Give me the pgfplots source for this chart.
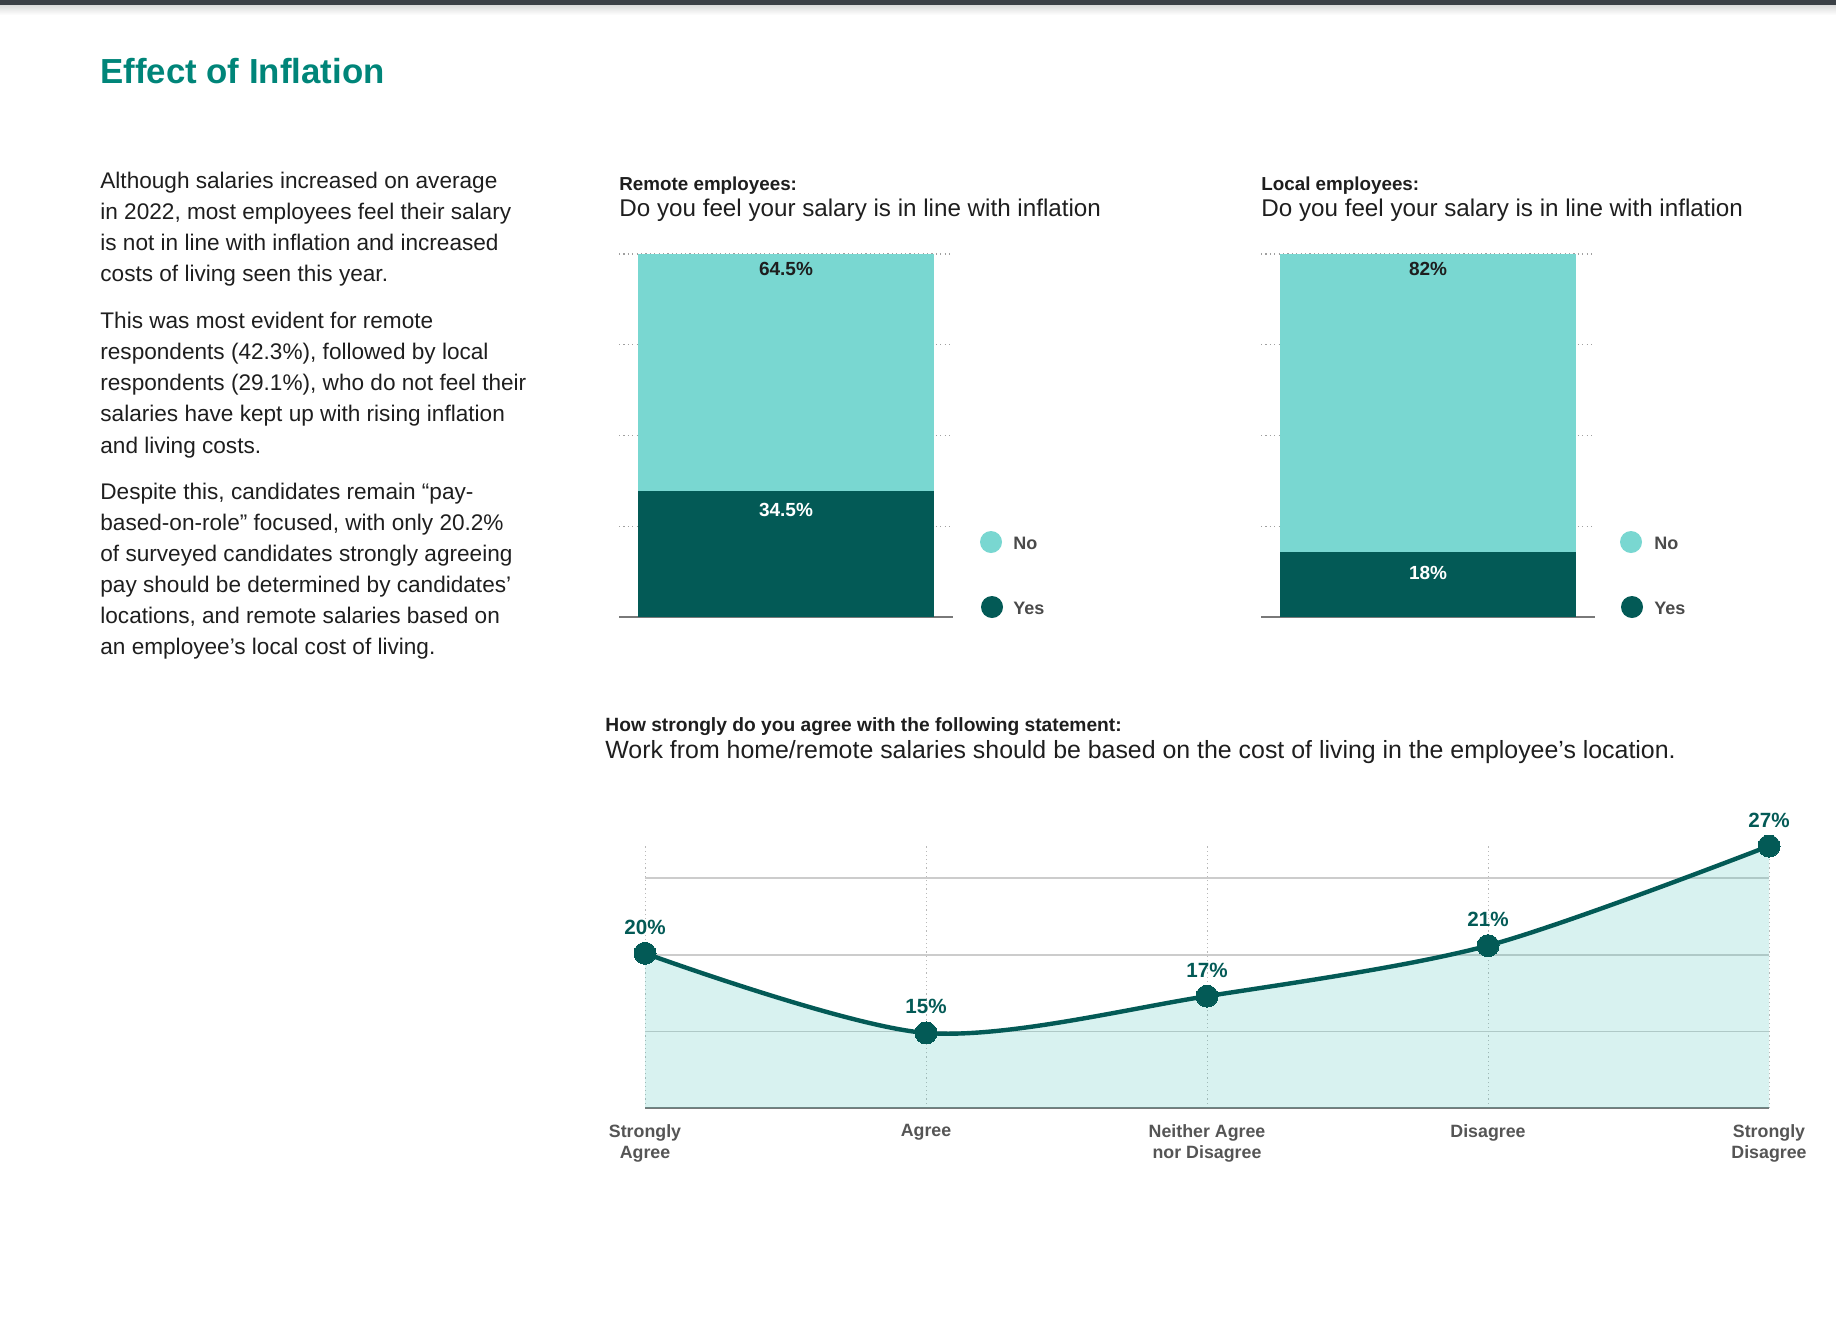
\documentclass[border=0pt]{standalone}
\usepackage{fontspec}
\setmainfont{Liberation Sans}
\usepackage{pgfplots}
\pgfplotsset{compat=1.18}
\usepackage{pgfplotstable}

\definecolor{tealL}{HTML}{79D7D1}
\definecolor{tealD}{HTML}{035A56}
\definecolor{titlec}{HTML}{008579}
\definecolor{fillc}{HTML}{3CBEB4}
\definecolor{txt}{HTML}{1E1E1E}
\definecolor{legc}{HTML}{4A4A4A}
\definecolor{tickc}{HTML}{555555}
\definecolor{topbar}{HTML}{3B4046}

\pgfplotstableread{
x y
0 34.5
}\remoteyes
\pgfplotstableread{
x y
0 64.5
}\remoteno
\pgfplotstableread{
x y
0 18
}\localyes
\pgfplotstableread{
x y
0 82
}\localno
\pgfplotstableread{
x y lab
0 20.1 20
1 14.9 15
2 17.3 17
3 20.6 21
4 27.1 27
}\agree

\newcommand{\bodyf}{\fontsize{11.3}{15.5}\selectfont}
\newcommand{\subf}{\fontsize{9.4}{11}\selectfont\bfseries}
\newcommand{\qf}{\fontsize{12.1}{14}\selectfont}
\newcommand{\barlab}{\fontsize{9.5}{11}\selectfont\bfseries}

\pgfplotsset{
  barax/.style={
    anchor=south west, scale only axis, width=167pt, height=181.5pt,
    ybar stacked, bar width=0.889,
    xmin=-0.5, xmax=0.5, ymin=0,
    xtick=\empty, yticklabels={},
    ymajorgrids,
    major y grid style={gray!75, line width=0.6pt, dash pattern=on 0.6pt off 1.6pt},
    axis x line*=bottom, axis y line*=left,
    y axis line style={draw=none},
    x axis line style={-, draw=gray!95!black, line width=1.3pt},
    major tick length=0pt,
    clip=false,
  }
}

\begin{document}
\begin{tikzpicture}[x=0.5pt,y=-0.5pt]
\path[use as bounding box] (0,0) rectangle (1836,1324);
\shade[top color=black!14, bottom color=white] (0,5) rectangle (1836,15);
\fill[topbar] (0,0) rectangle (1836,5);

% title
\node[anchor=base west, inner sep=0pt, font=\fontsize{17.4}{20}\selectfont\bfseries, text=titlec] at (100,83) {Effect of Inflation};

% body text
\begin{scope}[every node/.style={anchor=base west, inner sep=0pt, font=\bodyf, text=txt}]
\node at (100,188) {Although salaries increased on average};
\node at (100,219.5) {in 2022, most employees feel their salary};
\node at (100,250.5) {is not in line with inflation and increased};
\node at (100,281.5) {costs of living seen this year.};
\node at (100,328) {This was most evident for remote};
\node at (100,359) {respondents (42.3\%), followed by local};
\node at (100,390) {respondents (29.1\%), who do not feel their};
\node at (100,421.5) {salaries have kept up with rising inflation};
\node at (100,453) {and living costs.};
\node at (100,499) {Despite this, candidates remain “pay-};
\node at (100,530) {based-on-role” focused, with only 20.2\%};
\node at (100,561) {of surveyed candidates strongly agreeing};
\node at (100,592) {pay should be determined by candidates’};
\node at (100,623.5) {locations, and remote salaries based on};
\node at (100,654.5) {an employee’s local cost of living.};
\end{scope}

% chart titles
\begin{scope}[every node/.style={anchor=base west, inner sep=0pt, text=txt}]
\node[font=\subf] at (619,190) {Remote employees:};
\node[font=\qf] at (619,216.5) {Do you feel your salary is in line with inflation};
\node[font=\subf] at (1261,190) {Local employees:};
\node[font=\qf] at (1261,216.5) {Do you feel your salary is in line with inflation};
\node[font=\fontsize{9.6}{11}\selectfont\bfseries] at (605,731.5) {How strongly do you agree with the following statement:};
\node[font=\fontsize{12.45}{14}\selectfont] at (605,758) {Work from home/remote salaries should be based on the cost of living in the employee’s location.};
\end{scope}

% remote bar
\begin{axis}[barax, at={(309.5pt,-308.5pt)}, ymax=99, ytick={0,24.75,49.5,74.25,99}]
\addplot[fill=tealD, draw=none] table[x=x,y=y]{\remoteyes};
\addplot[fill=tealL, draw=none] table[x=x,y=y]{\remoteno};
\coordinate (ryes) at (axis cs:0,34.5);
\coordinate (rno) at (axis cs:0,99);
\end{axis}
\node[anchor=north, inner sep=0pt, font=\barlab, text=white, yshift=-6.25pt] at (ryes) {34.5\%};
\node[anchor=north, inner sep=0pt, font=\barlab, text=txt, yshift=-3.75pt] at (rno) {64.5\%};

% local bar
\begin{axis}[barax, at={(630.5pt,-308.5pt)}, ymax=100, ytick={0,25,50,75,100}]
\addplot[fill=tealD, draw=none] table[x=x,y=y]{\localyes};
\addplot[fill=tealL, draw=none] table[x=x,y=y]{\localno};
\coordinate (lyes) at (axis cs:0,18);
\coordinate (lno) at (axis cs:0,100);
\end{axis}
\node[anchor=north, inner sep=0pt, font=\barlab, text=white, yshift=-7.25pt] at (lyes) {18\%};
\node[anchor=north, inner sep=0pt, font=\barlab, text=txt, yshift=-3.75pt] at (lno) {82\%};

% legends
\begin{scope}[every node/.style={anchor=base west, inner sep=0pt, font=\fontsize{9}{11}\selectfont\bfseries, text=legc}]
\fill[tealL] (991,542) circle[radius=11];
\fill[tealD] (992,607) circle[radius=11];
\node at (1013,549) {No};
\node at (1013,614) {Yes};
\fill[tealL] (1631,542) circle[radius=11];
\fill[tealD] (1632,607) circle[radius=11];
\node at (1654,549) {No};
\node at (1654,614) {Yes};
\end{scope}

% line chart
\begin{axis}[
  at={(322.5pt,-554pt)}, anchor=south west, scale only axis,
  width=562pt, height=131pt,
  xmin=0, xmax=4, ymin=10, ymax=27.1,
  xtick={0,1,2,3,4},
  xticklabels={{Strongly\\Agree},Agree,{Neither Agree\\nor Disagree},Disagree,{Strongly\\Disagree}},
  xticklabel style={align=center, font=\fontsize{8.9}{10.5}\selectfont\bfseries, text=tickc, inner sep=0pt, anchor=north, yshift=-8pt},
  ytick={15,20,25}, yticklabels={},
  xmajorgrids, ymajorgrids,
  major x grid style={gray!55, line width=0.5pt, dash pattern=on 0.6pt off 1.5pt},
  major y grid style={gray!40, line width=0.7pt},
  axis x line*=bottom, axis y line*=left,
  y axis line style={draw=none},
  x axis line style={-, draw=gray!95!black, line width=1.3pt},
  major tick length=0pt,
  clip=false,
]
\addplot[draw=none, fill=fillc, fill opacity=0.2, smooth] table[x=x,y=y]{\agree} \closedcycle;
\addplot[tealD, line width=2.2pt, smooth, mark=*, mark size=5.5pt,
  mark options={solid, fill=tealD, draw=tealD, line width=0pt},
  point meta=explicit symbolic, nodes near coords={\pgfplotspointmeta\%},
  every node near coord/.append style={font=\fontsize{10.3}{12}\selectfont\bfseries, text=tealD, anchor=base, inner sep=0pt, yshift=9.5pt}]
  table[x=x,y=y,meta=lab]{\agree};
\end{axis}
\end{tikzpicture}
\end{document}
